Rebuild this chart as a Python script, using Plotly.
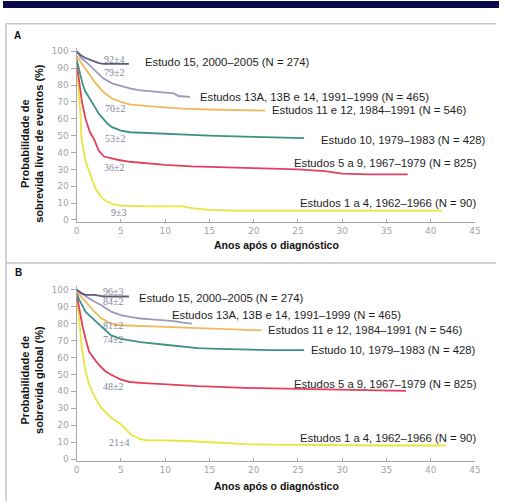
import plotly.graph_objects as go

W, H = 505, 504

# ---------------- Data: Panel A (event-free survival) ----------------
a15_t = [0, 0.5, 1, 1.5, 2, 2.5, 3, 4, 5, 5.9]
a15_v = [100, 97.5, 96, 95, 94, 93, 92.5, 92.5, 92.5, 92.5]
a13_t = [0, 0.5, 1, 1.5, 2, 3, 4, 5, 6, 7, 8, 9, 10, 11, 11.5, 12.8]
a13_v = [100, 96, 94, 91.5, 88.5, 84, 81, 79.5, 78, 77, 76.5, 76, 75.5, 75, 73.5, 73]
a11_t = [0, 0.5, 1, 1.5, 2, 3, 4, 5, 6, 8, 10, 12, 15, 18, 21.3]
a11_v = [97, 93, 89.5, 86, 82, 76, 72, 70, 68.5, 67.5, 66.7, 66, 65.5, 65, 64.8]
a10_t = [0, 0.3, 0.7, 1, 1.5, 2, 2.5, 3, 3.5, 4, 5, 6, 8, 10, 15, 20, 25.7]
a10_v = [95, 88, 80, 76, 72, 67.5, 63, 60, 57, 55, 53, 52, 51.5, 51, 50, 49.3, 48.5]
a5_t = [0, 0.3, 0.6, 1, 1.5, 2, 2.5, 3.1, 4, 4.6, 6, 8, 10, 13, 16, 20, 25, 28, 30, 33, 37.4]
a5_v = [93, 82, 70, 60, 52, 47.5, 41, 37.6, 36.3, 35.7, 34.5, 33.5, 32.7, 31.8, 31.3, 30.8, 30, 29, 27.5, 27, 27]
a1_t = [0, 0.2, 0.4, 0.55, 0.8, 1, 1.25, 1.5, 1.8, 2.2, 2.7, 3.3, 4.2, 5, 8, 12, 13, 15, 18, 25, 35, 41.3]
a1_v = [92, 80, 65, 48, 40, 35, 31, 28, 23, 18, 14, 11.2, 9.2, 8.5, 8, 8, 7, 6, 5.5, 5.5, 5.5, 5.5]

# ---------------- Data: Panel B (overall survival) ----------------
b15_t = [0, 0.5, 1, 2, 2.5, 3, 5.9]
b15_v = [100, 98, 97, 97, 96.5, 96, 96]
b13_t = [0, 0.5, 1, 1.5, 2, 2.8, 3.9, 5, 6, 7.2, 8.5, 10, 11, 12, 13]
b13_v = [100, 98, 96, 94.5, 93, 90.8, 87, 85, 84, 83, 82.5, 82, 81.5, 80.5, 80]
b11_t = [0, 0.5, 1, 1.4, 2, 2.8, 3.9, 5, 7, 10, 13, 16, 19, 20.9]
b11_v = [99, 96, 93, 90.8, 87, 83, 80, 79, 78.5, 78, 77.5, 77, 76.3, 76]
b10_t = [0, 0.3, 0.7, 1, 1.4, 2, 2.8, 3.3, 3.9, 5, 7.2, 10, 13.7, 16, 19, 22, 25.7]
b10_v = [98, 94, 90, 87, 85, 82, 78.5, 76, 73, 71, 69, 67.5, 65.5, 65, 64.5, 64.3, 64.3]
b5_t = [0, 0.3, 0.65, 1, 1.4, 2, 2.5, 3.2, 3.9, 5, 6, 7.2, 10, 13.7, 19, 25, 30, 34, 37.2]
b5_v = [97, 88, 79, 71, 63.5, 59, 55.7, 52, 49.8, 46.9, 45.5, 45, 44, 43, 42, 41.5, 41, 40.5, 40.3]
b1_t = [0, 0.3, 0.6, 1, 1.4, 2.1, 2.8, 3.9, 5, 6.1, 7.2, 8, 10, 13, 15.5, 19, 22, 25, 30, 35, 41.7]
b1_v = [97, 79, 65, 52, 44, 36, 30, 24.4, 20.5, 14.6, 11.7, 11, 11, 10.5, 9.8, 8.8, 8.5, 8.3, 8, 8, 8]

series_names = [
    "Estudo 15, 2000–2005 (N = 274)",
    "Estudos 13A, 13B e 14, 1991–1999 (N = 465)",
    "Estudos 11 e 12, 1984–1991 (N = 546)",
    "Estudo 10, 1979–1983 (N = 428)",
    "Estudos 5 a 9, 1967–1979 (N = 825)",
    "Estudos 1 a 4, 1962–1966 (N = 90)",
]
series_colors = ["#5c5c74", "#9a9abc", "#f0b85c", "#3e9088", "#e2405c", "#e6e63c"]
stats_A = ["92±4", "79±2", "70±2", "53±2", "36±2", "9±3"]
stats_B = ["96±3", "84±2", "81±2", "74±2", "48±2", "21±4"]
x_ticks = [0, 5, 10, 15, 20, 25, 30, 35, 40, 45]
y_ticks = [0, 10, 20, 30, 40, 50, 60, 70, 80, 90, 100]

curves_A = [(a15_t, a15_v), (a13_t, a13_v), (a11_t, a11_v), (a10_t, a10_v), (a5_t, a5_v), (a1_t, a1_v)]
curves_B = [(b15_t, b15_v), (b13_t, b13_v), (b11_t, b11_v), (b10_t, b10_v), (b5_t, b5_v), (b1_t, b1_v)]

def px(x):
    return x / W

def py(y):
    return 1 - y / H

fig = go.Figure()
order = [5, 4, 3, 2, 1, 0]
for i in order:
    t, v = curves_A[i]
    fig.add_trace(go.Scatter(x=t, y=v, mode="lines", line=dict(color=series_colors[i], width=1.8, shape="linear"),
                             xaxis="x", yaxis="y", showlegend=False, hoverinfo="skip"))
for i in order:
    t, v = curves_B[i]
    fig.add_trace(go.Scatter(x=t, y=v, mode="lines", line=dict(color=series_colors[i], width=1.8, shape="linear"),
                             xaxis="x2", yaxis="y2", showlegend=False, hoverinfo="skip"))

tickfont = dict(family="DejaVu Sans, sans-serif", size=9, color="#a4a4a4")
axcommon = dict(showgrid=False, zeroline=False, showline=True, linecolor="#a8a8a8", linewidth=1.2,
                tickcolor="#a8a8a8", tickfont=tickfont)
xdom = [px(75), px(480.5)]
fig.update_layout(
    width=W, height=H, margin=dict(l=0, r=0, t=0, b=0),
    paper_bgcolor="white", plot_bgcolor="white",
    xaxis=dict(domain=xdom, range=[0, 45], tickvals=x_ticks, ticks="inside", ticklen=3, anchor="y", **axcommon),
    yaxis=dict(domain=[py(222.4), py(47.3)], range=[-1, 102], tickvals=y_ticks, ticks="outside", ticklen=5,
               anchor="x", **axcommon),
    xaxis2=dict(domain=xdom, range=[0, 45], tickvals=x_ticks, ticks="inside", ticklen=3, anchor="y2", **axcommon),
    yaxis2=dict(domain=[py(463.4), py(287.6)], range=[-1, 102], tickvals=y_ticks, ticks="outside", ticklen=5,
                anchor="x2", **axcommon),
)

shapes = [
    dict(type="rect", xref="paper", yref="paper", x0=0, x1=1, y0=py(7), y1=1, fillcolor="#08084a", line=dict(width=0)),
    dict(type="line", xref="paper", yref="paper", x0=px(3), x1=px(502), y0=py(23), y1=py(23), line=dict(color="#c4c4c4", width=1.5)),
    dict(type="line", xref="paper", yref="paper", x0=px(3), x1=px(502), y0=py(264), y1=py(264), line=dict(color="#c4c4c4", width=1.5)),
    dict(type="line", xref="paper", yref="paper", x0=px(3), x1=px(3), y0=py(23), y1=0, line=dict(color="#c4c4c4", width=1.5)),
]
fig.update_layout(shapes=shapes)

lab_font = dict(family="Liberation Sans, Arial, sans-serif", size=11.3, color="#1e1e1e")
stat_font = dict(family="Liberation Serif, serif", size=10, color="#84849a")
bold_font = dict(family="Liberation Sans, Arial, sans-serif", size=11, color="#111111")

annotations = []
labA = [(142.7, 61.5), (198.3, 97), (271.5, 110), (321.7, 140), (294.3, 163), (300.7, 203.3)]
labB = [(136.7, 299), (170, 317), (267.3, 331.7), (311.7, 351.7), (294.3, 386), (300.7, 440)]
statA = [(114, 59), (114, 71.7), (115, 108.3), (115, 138.3), (114, 168.3), (118, 213.3)]
statB = [(112.5, 293.3), (112.5, 303.3), (112.5, 326.7), (112.5, 341.7), (112.5, 388.3), (119, 445)]
for i in range(6):
    for (lx, ly) in (labA[i], labB[i]):
        annotations.append(dict(x=px(lx), y=py(ly), xref="paper", yref="paper", text=series_names[i],
                                showarrow=False, xanchor="left", yanchor="middle", font=lab_font))
    annotations.append(dict(x=px(statA[i][0]), y=py(statA[i][1]), xref="paper", yref="paper", text=stats_A[i],
                            showarrow=False, xanchor="center", yanchor="middle", font=stat_font))
    annotations.append(dict(x=px(statB[i][0]), y=py(statB[i][1]), xref="paper", yref="paper", text=stats_B[i],
                            showarrow=False, xanchor="center", yanchor="middle", font=stat_font))

annotations += [
    dict(x=px(9), y=py(35), xref="paper", yref="paper", text="<b>A</b>", showarrow=False,
         xanchor="left", yanchor="middle", font=dict(family="Liberation Sans, Arial", size=10, color="#111")),
    dict(x=px(10), y=py(274), xref="paper", yref="paper", text="<b>B</b>", showarrow=False,
         xanchor="left", yanchor="middle", font=dict(family="Liberation Sans, Arial", size=10, color="#111")),
    dict(x=px(278.5), y=py(246), xref="paper", yref="paper", text="<b>Anos após o diagnóstico</b>",
         showarrow=False, xanchor="center", yanchor="middle", font=dict(family="Liberation Sans, Arial", size=10.5, color="#111")),
    dict(x=px(278.5), y=py(488.5), xref="paper", yref="paper", text="<b>Anos após o diagnóstico</b>",
         showarrow=False, xanchor="center", yanchor="middle", font=dict(family="Liberation Sans, Arial", size=10.5, color="#111")),
    dict(x=px(29.5), y=py(143), xref="paper", yref="paper", text="<b>Probabilidade de<br>sobrevida livre de eventos (%)</b>",
         showarrow=False, xanchor="center", yanchor="middle", textangle=-90, font=bold_font),
    dict(x=px(29.5), y=py(382), xref="paper", yref="paper", text="<b>Probabilidade de<br>sobrevida global (%)</b>",
         showarrow=False, xanchor="center", yanchor="middle", textangle=-90, font=bold_font),
]
fig.update_layout(annotations=annotations)

fig.write_html("out.html", config={"displayModeBar": False},
               post_script="document.body.style.margin='0';document.body.style.padding='0';document.body.style.overflow='hidden';")
